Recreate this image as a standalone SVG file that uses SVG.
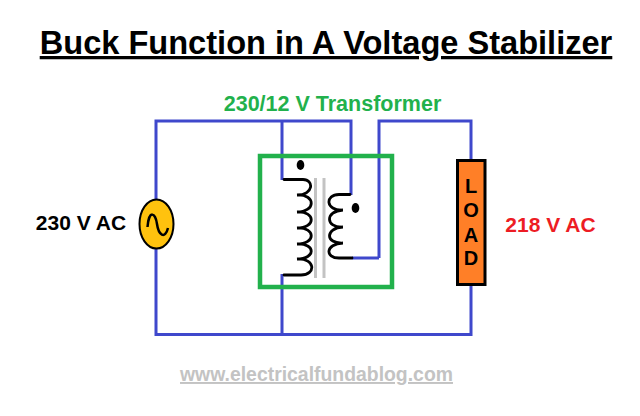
<svg xmlns="http://www.w3.org/2000/svg" width="640" height="416" viewBox="0 0 640 416">
<style>
text{font-family:"Liberation Sans",Arial,sans-serif;font-weight:bold}
.w{fill:none;stroke:#3f48cc;stroke-width:3}
.c{fill:none;stroke:#000;stroke-width:2.8;stroke-linecap:round}
.core{stroke:#c3c3c3;stroke-width:3}
</style>
<rect width="640" height="416" fill="#fff"/>
<g id="title"><text x="326" y="54" font-size="32.600" text-anchor="middle" text-decoration="underline" fill="#000">Buck Function in A Voltage Stabilizer</text></g>
<g id="connectors">
<path class="w" d="M156 200V121H351V195M282 121V180M379 258V121H471V160M156 249V334.500H471V285M282 274V334.500M352 258H379"/>
</g>
<g id="transformer-box"><rect x="260" y="156" width="132" height="131" fill="none" stroke="#22b14c" stroke-width="4.500"/>
<text x="332.500" y="111" font-size="21.500" text-anchor="middle" fill="#22b14c">230/12 V Transformer</text></g>
<g id="primary-coil"><path class="c" d="M284 179.500H303C314 179.500 314 195 297 195C316 194 316 212 297 212C316 211 316 228 297 228C316 227 316 244 297 244C316 243 316 259 297 259C316 258 316 275 301 275H284"/>
<ellipse cx="300.500" cy="165" rx="3.800" ry="5" fill="#000"/></g>
<g id="core"><path class="core" d="M315.500 178V278M324 178V278"/></g>
<g id="secondary-coil"><path class="c" d="M350 194.500H339C325 194.500 325 211 343 210C325 211 325 228 343 227C325 228 325 244 343 243C325 244 325 258 339 258H352"/>
<ellipse cx="355.500" cy="208" rx="3.800" ry="5" fill="#000"/></g>
<g id="source"><ellipse cx="156.500" cy="224" rx="17" ry="24.500" fill="#ffc20e" stroke="#000" stroke-width="2"/>
<path d="M147.500 227C149 209 155.500 213 157 224S165 240 168 228" fill="none" stroke="#000" stroke-width="2.500"/>
<text x="81" y="230" font-size="21" text-anchor="middle" fill="#000">230 V AC</text></g>
<g id="load"><rect x="457.500" y="160.500" width="27.500" height="124" fill="#ff7f27" stroke="#000" stroke-width="3"/>
<text x="471" y="193" font-size="20" text-anchor="middle" fill="#000">L</text>
<text x="471" y="217" font-size="20" text-anchor="middle" fill="#000">O</text>
<text x="471" y="242" font-size="20" text-anchor="middle" fill="#000">A</text>
<text x="471" y="265" font-size="20" text-anchor="middle" fill="#000">D</text>
<text x="550.500" y="232" font-size="21" text-anchor="middle" fill="#ed1c24">218 V AC</text></g>
<g id="website"><text x="316.500" y="381" font-size="19.400" text-anchor="middle" text-decoration="underline" fill="#c3c3c3">www.electricalfundablog.com</text></g>
</svg>
